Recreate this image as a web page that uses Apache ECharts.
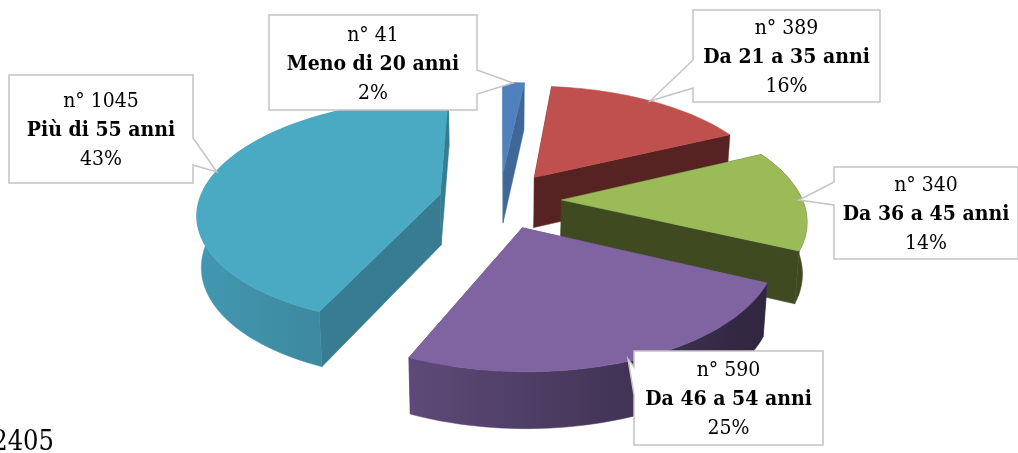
<!DOCTYPE html>
<html><head><meta charset="utf-8">
<style>html,body{margin:0;padding:0;background:#fff}#c{width:1018px;height:453px}</style>
<script src="https://cdn.jsdelivr.net/npm/echarts@6/dist/echarts.min.js"></script></head>
<body><div id="c"></div>
<script>
const categories = ['Meno di 20 anni','Da 21 a 35 anni','Da 36 a 45 anni','Da 46 a 54 anni','Più di 55 anni'];
const counts = [41,389,340,590,1045];
const percents = ['2%','16%','14%','25%','43%'];
const totalText = '2405';
const topColors = ['#4f81bd','#c0504d','#9bbb59','#8064a2','#4aa9c3'];
const cutColors = ['#3f6797','#572222','#3f4a20','#5e4a78','#377c90'];
const wallColors = [['#3f6797','#3f6797'],['#572222','#572222'],['#3f4a20','#3f4a20'],['#5e4a78','#30263f'],['#4297b0','#367a8e']];
const drawOrder = [0,1,2,4,3];
const boxes = [
 {x:269,y:15,w:208,h:95,p:[[477,70],[513,83],[477,94]]},
 {x:693,y:10,w:187,h:92,p:[[693,60],[650,101],[693,88]]},
 {x:834,y:167,w:184,h:92,p:[[834,182],[799,200],[834,205]]},
 {x:634,y:351,w:189,h:94,p:[[634,367],[628,359],[634,395]]},
 {x:9,y:75,w:184,h:108,p:[[193,138],[217,172],[193,165]]}
];
const FONT='"DejaVu Serif Condensed","DejaVu Serif"';
const cx=500,cy=200,Rx=241,Ry=112,K=0.155,E=0.255,H=50;
const total=counts.reduce((a,b)=>a+b,0);
function proj(u,v,down){
  const s=1/(1-K*v);
  let X=cx+Rx*u*s, Y=cy+Ry*v*s;
  if(down){X=cx+(X-cx)*0.985;Y=Y+H*(0.5+0.5*s)+1;}
  return [X,Y];
}
function renderItem(params,api){
  const i=params.dataIndex;
  let before=0;for(let k=0;k<i;k++)before+=counts[k];
  const a0=before/total*2*Math.PI,a1=(before+counts[i])/total*2*Math.PI,am=(a0+a1)/2;
  const ou=E*Math.sin(am),ov=-E*Math.cos(am);
  const z=drawOrder.indexOf(i)*10;
  const n=Math.max(4,Math.ceil((a1-a0)*40));
  const top=[],bot=[];
  for(let k=0;k<=n;k++){
    const a=a0+(a1-a0)*k/n,u=ou+Math.sin(a),v=ov-Math.cos(a);
    top.push(proj(u,v,false));bot.push(proj(u,v,true));
  }
  const at=proj(ou,ov,false),ab=proj(ou,ov,true);
  const children=[];
  const poly=(pts,fill,zz)=>children.push({type:'polygon',shape:{points:pts},z2:z+zz,style:{fill:fill,stroke:fill,lineWidth:0.5}});
  poly([at,top[0],bot[0],ab],cutColors[i],1);
  poly([at,top[n],bot[n],ab],cutColors[i],2);
  const xs=bot.map(p=>p[0]);const x0=Math.min(...xs),x1=Math.max(...xs);
  const wc=wallColors[i];
  const wall=top.concat(bot.slice().reverse());
  const grad=new echarts.graphic.LinearGradient(x0,0,x1,0,[{offset:0,color:wc[0]},{offset:1,color:wc[1]}],true);
  if(i>=2) poly(wall,grad,3);
  poly([at].concat(top),topColors[i],5);
  return {type:'group',children:children};
}
function renderLabel(params,api){
  const i=params.dataIndex,b=boxes[i];
  const line='#c4c4c4';
  const pts=[[b.x,b.y],[b.x+b.w,b.y],[b.x+b.w,b.y+b.h],[b.x,b.y+b.h]];
  const px=b.p[0][0];
  let outline;
  if(px===b.x+b.w) outline=[pts[0],pts[1],...b.p,pts[2],pts[3]];
  else outline=[pts[0],pts[1],pts[2],pts[3],...b.p.slice().reverse()];
  return {type:'group',children:[
    {type:'polygon',shape:{points:outline},z2:100,style:{fill:'#fff',stroke:line,lineWidth:1.5}},
    {type:'text',z2:101,style:{x:b.x+b.w/2,y:b.y+b.h/2+2,align:'center',verticalAlign:'middle',
      text:'{a|n° '+counts[i]+'}\n{b|'+categories[i]+'}\n{a|'+percents[i]+'}',
      rich:{a:{fontFamily:FONT,fontSize:21,lineHeight:29,fill:'#000',align:'center'},
            b:{fontFamily:FONT,fontSize:21,fontWeight:'bold',lineHeight:29,fill:'#000',align:'center'}}}}
  ]};
}
const chart=echarts.init(document.getElementById('c'),null,{renderer:'canvas'});
chart.setOption({
  animation:false,
  graphic:[{type:'text',x:54,y:443,style:{text:totalText,fontFamily:FONT,fontSize:27,fill:'#000',align:'right',verticalAlign:'middle'}}],
  series:[
   {type:'custom',coordinateSystem:'none',silent:true,renderItem:renderItem,data:counts,clip:false,z:2},
   {type:'custom',coordinateSystem:'none',silent:true,renderItem:renderLabel,data:counts,clip:false,z:3}
  ]
});
</script></body></html>
